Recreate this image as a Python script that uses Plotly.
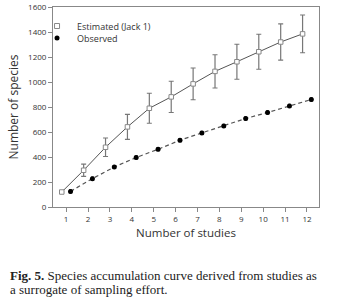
import plotly.graph_objects as go

studies = list(range(1, 13))
estimated = [120, 294, 478, 641, 790, 881, 985, 1085, 1162, 1242, 1320, 1385]
estimated_err = [0, 49, 74, 100, 120, 125, 127, 133, 140, 140, 145, 151]
observed = [125, 227, 320, 396, 462, 534, 593, 649, 708, 756, 809, 860]
observed_err = [12] * 12
x_ticks = list(range(1, 13))

est_x = [s - 0.2 for s in studies]
obs_x = [s + 0.2 for s in studies]

fig = go.Figure()

fig.add_trace(go.Scatter(
    x=est_x, y=estimated, mode="lines+markers", showlegend=False,
    line=dict(color="#555555", width=1),
    marker=dict(symbol="square", size=4.5, color="white", line=dict(color="#888888", width=1)),
    error_y=dict(type="data", array=estimated_err, color="#777777", thickness=1.2, width=2.5),
))
fig.add_trace(go.Scatter(
    x=obs_x, y=observed, mode="lines+markers", showlegend=False,
    line=dict(color="#555555", width=1.2, dash="4px,3px"),
    marker=dict(symbol="circle", size=5, color="black"),
    error_y=dict(type="data", array=observed_err, color="black", thickness=1, width=1.5),
))

# legend entries
fig.add_trace(go.Scatter(
    x=[None], y=[None], mode="markers", name="Estimated (Jack 1)", legend="legend",
    marker=dict(symbol="square", size=5, color="white", line=dict(color="#888888", width=1)),
))
fig.add_trace(go.Scatter(
    x=[None], y=[None], mode="markers", name="Observed", legend="legend2",
    marker=dict(symbol="circle", size=5, color="black"),
))

font_sans = "Open Sans"
fig.update_layout(
    width=339, height=304,
    margin=dict(l=53, r=20, t=7, b=97),
    paper_bgcolor="white", plot_bgcolor="white",
    font=dict(family=font_sans, color="#333333"),
    legend=dict(x=-0.06, y=0.905, xanchor="left", yanchor="middle",
                bgcolor="rgba(0,0,0,0)", font=dict(size=9, color="#333333")),
    legend2=dict(x=-0.06, y=0.845, xanchor="left", yanchor="middle",
                 bgcolor="rgba(0,0,0,0)", font=dict(size=9, color="#333333")),
    xaxis=dict(
        range=[0.4, 12.55], tickmode="array", tickvals=x_ticks,
        ticktext=[str(t) for t in x_ticks], automargin=False,
        showgrid=False, zeroline=False, showline=True, mirror=True,
        linecolor="#888888", linewidth=1, ticks="outside", ticklen=4,
        tickcolor="#888888", tickfont=dict(size=8, color="#333333"),
        title=dict(text="Number of studies", font=dict(size=11.5, color="#333333"), standoff=6),
    ),
    yaxis=dict(
        range=[0, 1600], dtick=200, showgrid=False, zeroline=False, automargin=False,
        showline=True, mirror=True, linecolor="#888888", linewidth=1,
        ticks="outside", ticklen=4, tickcolor="#888888",
        tickfont=dict(size=8, color="#333333"),
        title=dict(text="Number of species", font=dict(size=12, color="#333333"), standoff=6),
    ),
)

fig.add_annotation(
    xref="paper", yref="paper", x=-0.169, y=-0.342, xanchor="left", yanchor="middle",
    text="<b>Fig. 5.</b> Species accumulation curve derived from studies as",
    showarrow=False, font=dict(family="Liberation Serif", size=13, color="#222222"),
)
fig.add_annotation(
    xref="paper", yref="paper", x=-0.169, y=-0.412, xanchor="left", yanchor="middle",
    text="a surrogate of sampling effort.",
    showarrow=False, font=dict(family="Liberation Serif", size=13, color="#222222"),
)

fig.write_html("out.html", config={"displayModeBar": False},
               post_script="document.body.style.margin='0px';")
